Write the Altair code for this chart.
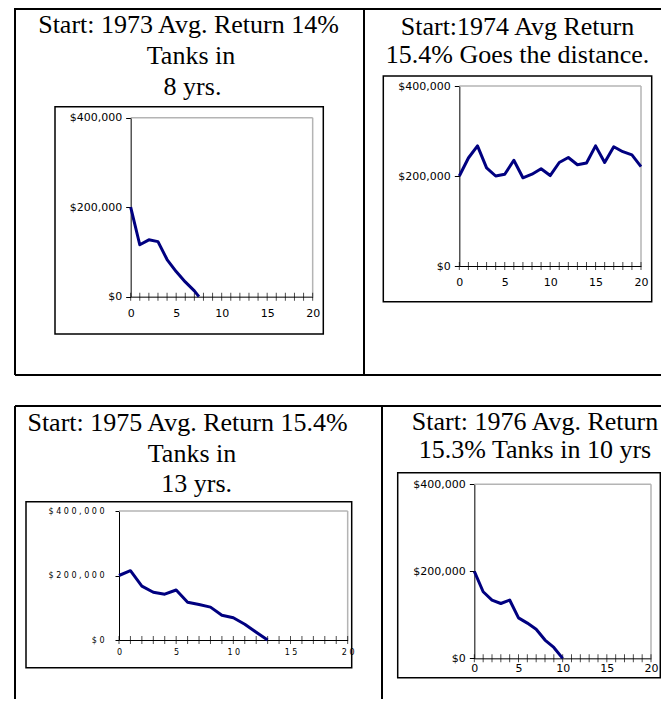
import altair as alt
import pandas as pd

# ---------------- data ----------------
years_1973 = [0, 1, 2, 3, 4, 5, 6, 7, 7.5]
balance_1973 = [200000, 116000, 127000, 123000, 83000, 56000, 33000, 13000, 0]

years_1974 = list(range(21))
balance_1974 = [200000, 240000, 267000, 218000, 200000, 204000, 235000, 196000,
                204000, 216000, 201000, 230000, 241000, 225000, 229000, 267000,
                230000, 265000, 254000, 247000, 221000]

years_1975 = list(range(14))
balance_1975 = [200000, 215000, 167000, 148000, 142000, 155000, 117000, 110000,
                102000, 77000, 69000, 49000, 24000, 0]

years_1976 = list(range(11))
balance_1976 = [200000, 153000, 134000, 126000, 134000, 93000, 81000, 67000,
                42000, 25000, 0]

titles_1973 = ["Start: 1973 Avg. Return 14%", "Tanks in", "8 yrs."]
titles_1974 = ["Start:1974 Avg Return", "15.4% Goes the distance."]
titles_1975 = ["Start: 1975 Avg. Return 15.4%", "Tanks in", "13 yrs."]
titles_1976 = ["Start: 1976 Avg. Return", "15.3% Tanks in 10 yrs"]

x_ticks = [0, 5, 10, 15, 20]
x_labels = ["0", "5", "10", "15", "20"]
x_labels_spaced = ["0", "5", "1 0", "1 5", "2 0"]
x_minor = list(range(21))
y_ticks = [0, 200000, 400000]
y_labels = ["$0", "$200,000", "$400,000"]
y_labels_spaced = ["$ 0", "$ 2 0 0 , 0 0 0", "$ 4 0 0 , 0 0 0"]

W, H = 653, 691
one = pd.DataFrame({"k": [0]})


def label_expr(values, labels):
    parts = [f"datum.value == {v} ? '{l}'" for v, l in zip(values, labels)]
    return " : ".join(parts) + " : ''"


def rule(x1, y1, x2, y2, color="black", width=2):
    return alt.Chart(one).mark_rule(color=color, strokeWidth=width).encode(
        x=alt.value(x1), y=alt.value(y1), x2=alt.value(x2), y2=alt.value(y2))


def text_line(s, cx, by, size=26):
    return alt.Chart(pd.DataFrame({"t": [s]})).mark_text(
        font="Liberation Serif", fontSize=size, align="center",
        baseline="alphabetic", color="black").encode(
        x=alt.value(cx), y=alt.value(by), text="t:N")


def panel(years, values, xr, yr, frame, font_size, ylabs, xlabs,
          ypad, xpad, tick_size):
    df = pd.DataFrame({"year": years, "balance": values})
    xs = alt.Scale(domain=[x_ticks[0], x_ticks[-1]], range=list(xr),
                   nice=False, zero=False)
    ys = alt.Scale(domain=[y_ticks[0], y_ticks[-1]], range=list(yr),
                   nice=False, zero=False)
    xaxis = alt.Axis(orient="bottom", offset=yr[0] - H, values=x_ticks,
                     ticks=False, domainColor="black", domainWidth=1,
                     labelFont="DejaVu Sans", labelFontSize=font_size,
                     labelColor="black", labelPadding=xpad, labelFlush=False,
                     labelExpr=label_expr(x_ticks, xlabs),
                     grid=False, title=None)
    yaxis = alt.Axis(orient="left", offset=-xr[0], values=y_ticks,
                     tickSize=tick_size, tickColor="black", tickWidth=1,
                     domainColor="black", domainWidth=1,
                     labelFont="DejaVu Sans", labelFontSize=font_size,
                     labelColor="black", labelPadding=ypad,
                     labelExpr=label_expr(y_ticks, ylabs),
                     grid=False, title=None)
    frame_layer = alt.Chart(one).mark_rect(
        fillOpacity=0, stroke="black", strokeWidth=1.5).encode(
        x=alt.value(frame[0]), y=alt.value(frame[1]),
        x2=alt.value(frame[2]), y2=alt.value(frame[3]))
    edges = pd.DataFrame({
        "xa": [x_ticks[0], x_ticks[-1]], "xb": [x_ticks[-1], x_ticks[-1]],
        "ya": [y_ticks[-1], y_ticks[0]], "yb": [y_ticks[-1], y_ticks[-1]]})
    edge_layer = alt.Chart(edges).mark_rule(color="#b4b4b4", strokeWidth=1.5).encode(
        x=alt.X("xa:Q", scale=xs, axis=None), x2="xb:Q",
        y=alt.Y("ya:Q", scale=ys, axis=None), y2="yb:Q")
    ticks = pd.DataFrame({"year": x_minor, "zero": [y_ticks[0]] * len(x_minor)})
    tick_layer = alt.Chart(ticks).mark_tick(
        orient="vertical", size=8, thickness=1, color="black").encode(
        x=alt.X("year:Q", scale=xs, axis=None),
        y=alt.Y("zero:Q", scale=ys, axis=None))
    line_layer = alt.Chart(df).mark_line(
        color="#000080", strokeWidth=3, strokeJoin="round").encode(
        x=alt.X("year:Q", scale=xs, axis=xaxis),
        y=alt.Y("balance:Q", scale=ys, axis=yaxis))
    return [frame_layer, edge_layer, tick_layer, line_layer]


layers = []
# table borders
layers += [
    rule(7, 1, W, 1),          # top table top
    rule(7, 0, 7, 367),        # top table left
    rule(7, 367, W, 367),      # top table bottom
    rule(356, 0, 356, 367),    # top table divider
    rule(7, 398, W, 398),      # bottom table top
    rule(7, 398, 7, H),        # bottom table left
    rule(374, 398, 374, H),    # bottom table divider
]
# titles
layers += [
    text_line(titles_1973[0], 180.5, 25.3),
    text_line(titles_1973[1], 183, 56),
    text_line(titles_1973[2], 184.5, 87),
    text_line(titles_1974[0], 509.5, 27),
    text_line(titles_1974[1], 509.5, 55.3),
    text_line(titles_1975[0], 179.5, 423),
    text_line(titles_1975[1], 184, 453.7),
    text_line(titles_1975[2], 188.7, 483.7),
    text_line(titles_1976[0], 527, 422),
    text_line(titles_1976[1], 527, 450.3),
]
# panels
layers += panel(years_1973, balance_1973, (122.67, 304.67), (288.67, 109.67),
                (47, 98.7, 315.3, 326), 11, y_labels, x_labels, 4, 11, 5)
layers += panel(years_1974, balance_1974, (451.33, 633), (258, 78),
                (375.3, 68, 643.7, 293.7), 11, y_labels, x_labels, 4, 10, 5)
layers += panel(years_1975, balance_1975, (111, 339.67), (632, 503),
                (18, 493.7, 343.7, 659.7), 8, y_labels_spaced, x_labels_spaced,
                11, 8, 4)
layers += panel(years_1976, balance_1976, (466.33, 643), (650.33, 476.33),
                (389.7, 464.7, 652.3, 669.7), 11, y_labels, x_labels, 4, 4, 5)

chart = alt.layer(*layers).resolve_scale(
    x="independent", y="independent").resolve_axis(
    x="independent", y="independent").properties(
    width=W, height=H, padding=0, background="white",
    autosize=alt.AutoSizeParams(type="none")).configure_view(strokeOpacity=0)

chart.save("out.html", embed_options={"renderer": "svg", "actions": False})
